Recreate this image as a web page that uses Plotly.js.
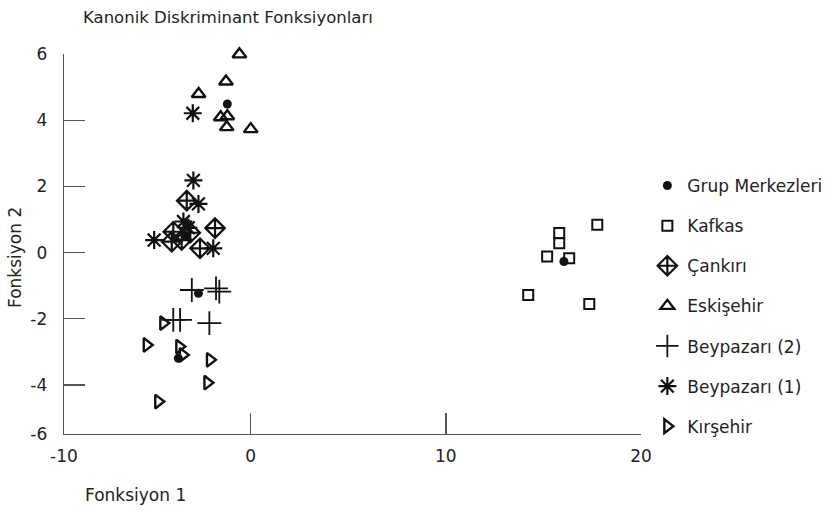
<!DOCTYPE html>
<html>
<head>
<meta charset="utf-8">
<script src="https://cdn.plot.ly/plotly-3.0.1.min.js"></script>
<style>html,body{margin:0;padding:0;background:#fff;}#chart{width:825px;height:511px;}</style>
</head>
<body>
<div id="chart"></div>
<script>
// Data
const centerX = [16.05, -3.3, -1.2, -2.68, -3.25, -3.71];
const centerY = [-0.27, 0.5, 4.49, -1.23, 0.85, -3.19];

const kafkasX = [17.76, 15.81, 15.81, 15.19, 16.32, 14.22, 17.35];
const kafkasY = [0.84, 0.59, 0.28, -0.12, -0.17, -1.28, -1.55];

const cankiriX = [-3.28, -3.97, -4.05, -3.54, -3.1, -1.83, -2.6];
const cankiriY = [1.57, 0.63, 0.33, 0.38, 0.6, 0.74, 0.13];

const eskisehirX = [-0.58, -1.27, -2.67, -1.54, -1.2, -1.23, 0.0];
const eskisehirY = [5.99, 5.17, 4.79, 4.09, 4.12, 3.79, 3.73];

const beypazari2X = [-3.02, -1.78, -1.61, -3.97, -3.62, -2.12];
const beypazari2Y = [-1.13, -1.08, -1.18, -2.03, -2.03, -2.13];

const beypazari1X = [-2.97, -2.94, -2.68, -3.45, -4.95, -1.92, -3.2];
const beypazari1Y = [4.21, 2.18, 1.47, 0.94, 0.38, 0.13, 0.75];

const kirsehirX = [-4.48, -5.33, -3.66, -3.48, -2.09, -2.22, -4.74];
const kirsehirY = [-2.13, -2.79, -2.84, -3.09, -3.24, -3.93, -4.5];

const seriesNames = ["Grup Merkezleri", "Kafkas", "Çankırı", "Eskişehir", "Beypazarı (2)", "Beypazarı (1)", "Kırşehir"];

const xTickVals = [-9.57, 0, 10, 20];
const xTickText = ["-10", "0", "10", "20"];
const yTickVals = [-5.48, -4, -2, 0, 2, 4, 6];
const yTickText = ["-6", "-4", "-2", "0", "2", "4", "6"];

const FONT = "DejaVu Sans, Liberation Sans, sans-serif";
const INK = "#111";

function tr(name, x, y, symbol, size, lw, rank) {
  return {
    type: "scatter", mode: "markers", name: name, x: x, y: y,
    legendgroup: name, legendrank: rank, cliponaxis: false,
    marker: {symbol: symbol, size: size, color: INK, line: {color: INK, width: lw}}
  };
}

const data = [
  tr(seriesNames[1], kafkasX, kafkasY, "square-open", 10, 2, 2),
  tr(seriesNames[2], cankiriX, cankiriY, "diamond-cross-open", 15, 2.2, 3),
  tr(seriesNames[3], eskisehirX, eskisehirY, "triangle-up-open", 12, 2.4, 4),
  tr(seriesNames[4], beypazari2X, beypazari2Y, "cross-thin-open", 17, 1.8, 5),
  tr(seriesNames[5], beypazari1X, beypazari1Y, "asterisk-open", 15, 2.2, 6),
  tr(seriesNames[6], kirsehirX, kirsehirY, "triangle-right-open", 12, 2.4, 7),
  {
    type: "scatter", mode: "markers", name: seriesNames[0], x: centerX, y: centerY,
    legendgroup: seriesNames[0], legendrank: 1, cliponaxis: false,
    marker: {symbol: "circle", size: 9, color: INK}
  }
];

const axisCommon = {
  showline: true, linecolor: "#555", linewidth: 1.3,
  ticks: "inside", ticklen: 21, tickwidth: 1.3, tickcolor: "#555",
  showgrid: false, zeroline: false, tickmode: "array",
  tickfont: {family: FONT, size: 17, color: "#222"}, fixedrange: true
};

const layout = {
  width: 825, height: 511,
  margin: {l: 64, r: 184.3, t: 54, b: 77, autoexpand: false},
  paper_bgcolor: "#fff", plot_bgcolor: "#fff",
  font: {family: FONT, size: 17, color: "#222"},
  title: {
    text: "Kanonik Diskriminant Fonksiyonları",
    xref: "container", yref: "container", x: 83/825, xanchor: "left",
    y: 1 - 17/511, yanchor: "middle",
    font: {family: FONT, size: 16.5, color: "#222"}
  },
  xaxis: Object.assign({}, axisCommon, {range: [-9.57, 20], tickvals: xTickVals, ticktext: xTickText, ticklabelstandoff: 6}),
  yaxis: Object.assign({}, axisCommon, {range: [-5.48, 6], tickvals: yTickVals, ticktext: yTickText, ticklabelstandoff: 12}),
  showlegend: true,
  legend: {
    x: 1.011, xanchor: "left", y: 0.70, yanchor: "top",
    font: {family: FONT, size: 17, color: "#222"},
    tracegroupgap: 15, bgcolor: "rgba(0,0,0,0)", traceorder: "grouped"
  },
  annotations: [
    {text: "Fonksiyon 2", xref: "paper", yref: "paper", x: (15-64)/576.7, y: (434-257)/380,
     xanchor: "center", yanchor: "middle", textangle: -90, showarrow: false,
     font: {family: FONT, size: 17, color: "#222"}},
    {text: "Fonksiyon 1", xref: "paper", yref: "paper", x: (83-64)/576.7, y: (434-495)/380,
     xanchor: "left", yanchor: "middle", showarrow: false,
     font: {family: FONT, size: 17, color: "#222"}}
  ]
};

Plotly.newPlot("chart", data, layout, {displayModeBar: false, staticPlot: true});
</script>
</body>
</html>
